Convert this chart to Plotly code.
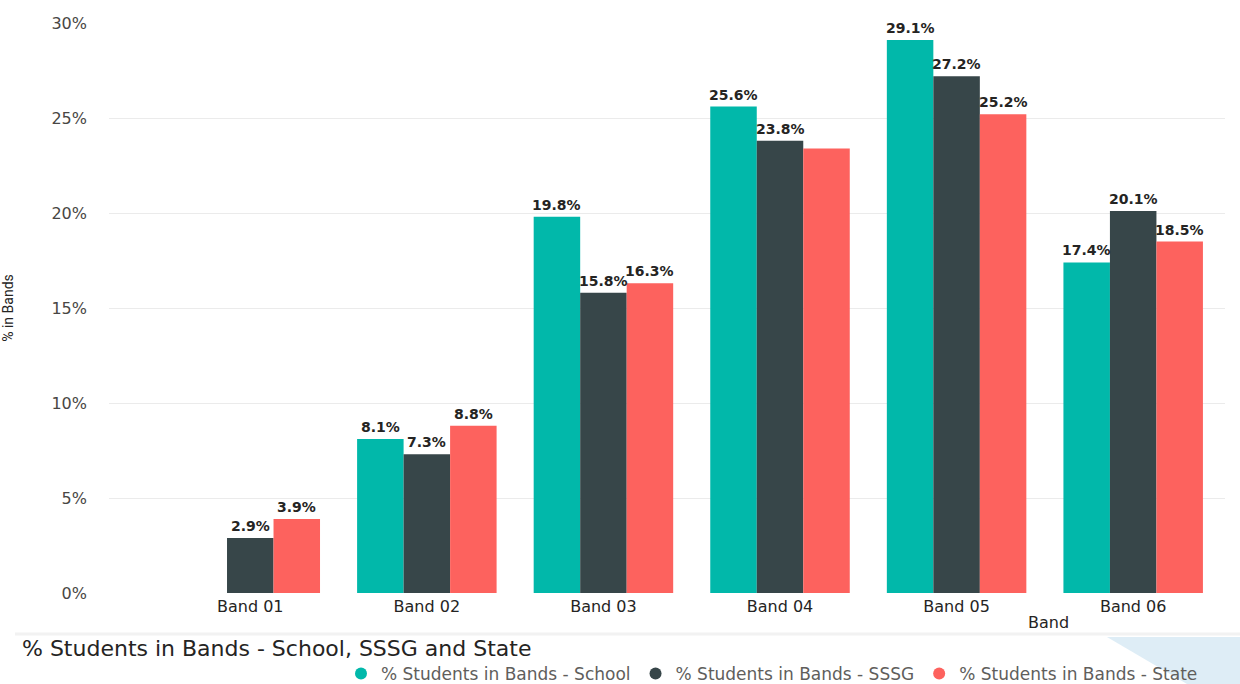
import plotly.graph_objects as go

# Band categories and the share of students in each band
bands = ["Band 01", "Band 02", "Band 03", "Band 04", "Band 05", "Band 06"]
school = [None, 8.1, 19.8, 25.6, 29.1, 17.4]
sssg = [2.9, 7.3, 15.8, 23.8, 27.2, 20.1]
state = [3.9, 8.8, 16.3, 23.4, 25.2, 18.5]

series_names = [
    "% Students in Bands - School",
    "% Students in Bands - SSSG",
    "% Students in Bands - State",
]
series_values = [school, sssg, state]
series_colors = ["#01B8AA", "#374649", "#FD625E"]

# data labels suppressed by the renderer where they would collide
hidden_labels = {(2, "Band 04")}

y_ticks = [0, 5, 10, 15, 20, 25, 30]
y_tick_text = ["0%", "5%", "10%", "15%", "20%", "25%", "30%"]

W, H = 1240, 684
M_L, M_R, M_T, M_B = 109, 15, 23, 91
PW, PH = W - M_L - M_R, H - M_T - M_B


def px_x(px):
    return (px - M_L) / PW


def px_y(py):
    return (H - M_B - py) / PH


fig = go.Figure()

for name, vals, col in zip(series_names, series_values, series_colors):
    fig.add_trace(go.Bar(
        x=bands, y=vals, name=name, marker=dict(color=col, line=dict(width=0)),
        showlegend=False, hoverinfo="skip",
    ))
    # circle swatches for the legend
    fig.add_trace(go.Scatter(
        x=[None], y=[None], mode="markers", name=name,
        marker=dict(symbol="circle", size=13, color=col),
    ))

x_lo, x_hi = -0.8, 5.52
unit_px = PW / (x_hi - x_lo)
bargap = 0.21
bar_px = unit_px * (1 - bargap) / len(series_values)

label_font = dict(family="DejaVu Sans", size=14, color="#252423", weight="bold")
axis_font = dict(family="DejaVu Sans", size=16, color="#252423")

annotations = []
for i, vals in enumerate(series_values):
    for band, v in zip(bands, vals):
        if v is None or (i, band) in hidden_labels:
            continue
        annotations.append(dict(
            x=band, y=v, xref="x", yref="y", text=f"{v:.1f}%",
            showarrow=False, yanchor="bottom", xanchor="center",
            xshift=(i - 1) * bar_px, yshift=2,
            font=label_font,
        ))

# x-axis title sits right of centre
annotations.append(dict(
    x=px_x(1048), y=px_y(622), xref="paper", yref="paper", text="Band",
    showarrow=False, xanchor="center", yanchor="middle",
    font=axis_font,
))

shapes = [
    dict(type="line", xref="paper", yref="paper",
         x0=px_x(15), x1=px_x(1240), y0=px_y(634), y1=px_y(634),
         line=dict(color="#f2f2f2", width=3), layer="below"),
    dict(type="path", xref="paper", yref="paper", layer="below",
         path=(f"M {px_x(1107)} {px_y(637)} L {px_x(1240)} {px_y(637)} "
               f"L {px_x(1240)} {px_y(684)} L {px_x(1187)} {px_y(684)} Z"),
         fillcolor="#deedf6", line=dict(width=0)),
]

fig.update_layout(
    width=W, height=H,
    margin=dict(l=M_L, r=M_R, t=M_T, b=M_B, pad=0, autoexpand=False),
    paper_bgcolor="white", plot_bgcolor="white",
    barmode="group", bargap=bargap, bargroupgap=0,
    font=dict(family="DejaVu Sans", color="#252423"),
    title=dict(
        text="% Students in Bands - School, SSSG and State",
        x=22 / W, xref="container", xanchor="left",
        y=(H - 648) / H, yref="container", yanchor="middle",
        font=dict(family="DejaVu Sans", size=22, color="#252423"),
    ),
    xaxis=dict(
        range=[x_lo, x_hi], showgrid=False, zeroline=False, showline=False,
        ticks="", ticklabelstandoff=2,
        tickfont=axis_font,
        fixedrange=True,
    ),
    yaxis=dict(
        range=[0, 30], tickvals=y_ticks, ticktext=y_tick_text,
        showgrid=True, gridcolor="#ebebeb", gridwidth=1,
        zeroline=False, showline=False, ticks="",
        ticklabelstandoff=21,
        tickfont=dict(family="DejaVu Sans", size=16, color="#484644"),
        title=dict(text="% in Bands", standoff=38,
                   font=dict(family="Liberation Sans Narrow, Roboto", size=14,
                             color="#252423")),
        fixedrange=True,
    ),
    legend=dict(
        orientation="h", x=341 / W, xref="container", xanchor="left",
        y=(H - 674) / H, yref="container", yanchor="middle",
        font=dict(family="DejaVu Sans", size=17, color="#605E5C"),
        itemsizing="constant", itemwidth=30, tracegroupgap=0,
        bgcolor="rgba(0,0,0,0)",
    ),
    annotations=annotations,
    shapes=shapes,
)

fig.write_html("out.html")
